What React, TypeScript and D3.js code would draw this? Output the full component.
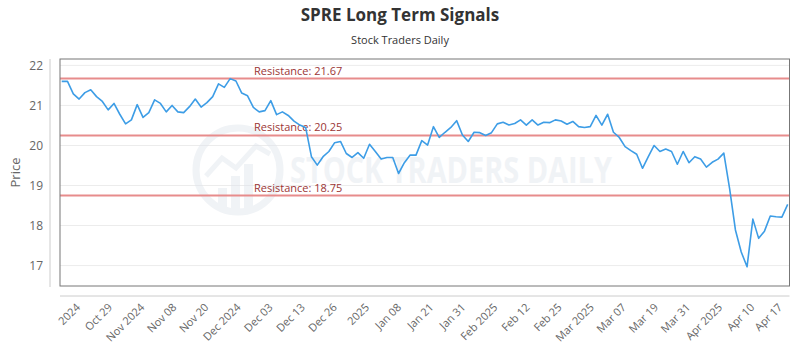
import React from "react";
import * as d3 from "d3";

const prices: number[] = [
  21.6, 21.6, 21.29, 21.16, 21.32, 21.39, 21.22, 21.1, 20.89, 21.05,
  20.78, 20.54, 20.64, 21.02, 20.7, 20.82, 21.14, 21.05, 20.84, 21.0,
  20.84, 20.82, 20.97, 21.16, 20.96, 21.07, 21.22, 21.54, 21.45, 21.67,
  21.61, 21.31, 21.24, 20.95, 20.84, 20.87, 21.12, 20.77, 20.84, 20.75,
  20.61, 20.51, 20.45, 19.72, 19.51, 19.72, 19.85, 20.07, 20.1, 19.8,
  19.7, 19.82, 19.68, 20.03, 19.85, 19.66, 19.7, 19.7, 19.3, 19.57,
  19.76, 19.76, 20.12, 20.01, 20.47, 20.2, 20.33, 20.45, 20.62, 20.26,
  20.1, 20.33, 20.32, 20.25, 20.32, 20.54, 20.58, 20.51, 20.55, 20.64,
  20.51, 20.64, 20.51, 20.58, 20.57, 20.64, 20.61, 20.53, 20.6, 20.47,
  20.45, 20.47, 20.75, 20.51, 20.78, 20.33, 20.2, 19.97, 19.87, 19.78,
  19.43, 19.72, 20.0, 19.85, 19.91, 19.85, 19.53, 19.85, 19.57, 19.72,
  19.66, 19.46, 19.58, 19.66, 19.81, 18.92, 17.89, 17.34, 16.97, 18.16,
  17.68, 17.86, 18.24, 18.22, 18.21, 18.53,
];

const tickLabels: string[] = [
  "2024", "Oct 29", "Nov 2024", "Nov 08", "Nov 20", "Dec 2024", "Dec 03",
  "Dec 13", "Dec 26", "2025", "Jan 08", "Jan 21", "Jan 31", "Feb 2025",
  "Feb 12", "Feb 25", "Mar 2025", "Mar 07", "Mar 19", "Mar 31", "Apr 2025",
  "Apr 10", "Apr 17",
];

const yTicks: number[] = [17, 18, 19, 20, 21, 22];
const resistances: number[] = [21.67, 20.25, 18.75];

const W = 800;
const H = 350;
const plotLeft = 60;
const plotRight = 789.5;
const plotTop = 59;
const plotBottom = 286;
const FONT = "'Open Sans', 'Noto Sans', sans-serif";

export default function App() {
  const n = prices.length;
  const x = d3.scaleLinear().domain([0, n - 1]).range([61.7, 787.7]);
  const y = d3.scaleLinear().domain([16.49, 22.16]).range([plotBottom, plotTop]);

  const line = d3
    .line<number>()
    .x((_, i) => x(i))
    .y((d) => y(d));

  // evenly spaced label slots in index space; last label sits near the final point
  const slot = d3.scaleLinear().domain([0, tickLabels.length - 2]).range([3.3, 119.4]);
  const tickIndex = (i: number) => (i < tickLabels.length - 1 ? slot(i) : n - 1.8);

  return (
    <svg
      width={W}
      height={H}
      style={{ position: "absolute", left: 0, top: 0, background: "#fff" }}
      fontFamily={FONT}
    >
      <rect x={0} y={0} width={W} height={H} fill="#fff" />
      {/* title */}
      <text x={400} y={21} textAnchor="middle" fontSize={17} fontWeight={700} fill="#333">
        SPRE Long Term Signals
      </text>
      <text x={400} y={44} textAnchor="middle" fontSize={11} fill="#333">
        Stock Traders Daily
      </text>

      {/* gridlines */}
      {yTicks.map((t) => (
        <line key={t} x1={plotLeft} x2={plotRight} y1={y(t)} y2={y(t)} stroke="#ececec" strokeWidth={1} />
      ))}

      {/* watermark */}
      <g opacity={0.45}>
        <circle cx={238} cy={170} r={42} fill="none" stroke="#dfe5ec" strokeWidth={7} />
        {[0, 1, 2].map((k) => (
          <rect key={k} x={218 + k * 13} y={188 - k * 12} width={9} height={22 + k * 12} fill="#dfe5ec" />
        ))}
        <polyline points="206,176 222,158 236,168 256,146 270,154" fill="none" stroke="#dfe5ec" strokeWidth={5} />
        <text
          x={290}
          y={183}
          fontSize={36}
          fontWeight={700}
          fill="#dfe5ec"
          textLength={322}
          lengthAdjust="spacingAndGlyphs"
        >
          STOCK TRADERS DAILY
        </text>
      </g>

      {/* resistance lines */}
      {resistances.map((r) => (
        <g key={r}>
          <line x1={plotLeft} x2={plotRight} y1={y(r)} y2={y(r)} stroke="#e78c8c" strokeWidth={2} />
          <text x={254} y={y(r) - 4} fontSize={11} fill="#9b3535">
            {`Resistance: ${r.toFixed(2)}`}
          </text>
        </g>
      ))}

      {/* price line */}
      <path d={line(prices) || ""} fill="none" stroke="#3d9de6" strokeWidth={1.6} strokeLinejoin="round" />

      {/* plot border */}
      <rect
        x={plotLeft}
        y={plotTop}
        width={plotRight - plotLeft}
        height={plotBottom - plotTop}
        fill="none"
        stroke="#777"
        strokeWidth={1}
      />

      {/* y axis */}
      <line x1={50} x2={50} y1={plotTop} y2={plotBottom + 1} stroke="#ccc" strokeWidth={1} />
      {yTicks.map((t) => (
        <text key={t} x={43} y={y(t) + 4.5} textAnchor="end" fontSize={12} fill="#666">
          {t}
        </text>
      ))}
      <text
        transform={`translate(20, ${(plotTop + plotBottom) / 2}) rotate(-90)`}
        textAnchor="middle"
        fontSize={13}
        fill="#666"
      >
        Price
      </text>

      {/* x axis */}
      <line x1={plotLeft} x2={plotRight} y1={296} y2={296} stroke="#ccc" strokeWidth={1} />
      {tickLabels.map((lab, i) => (
        <text
          key={lab}
          transform={`translate(${x(tickIndex(i))}, 308) rotate(-45)`}
          textAnchor="end"
          fontSize={11}
          fill="#666"
        >
          {lab}
        </text>
      ))}
    </svg>
  );
}
